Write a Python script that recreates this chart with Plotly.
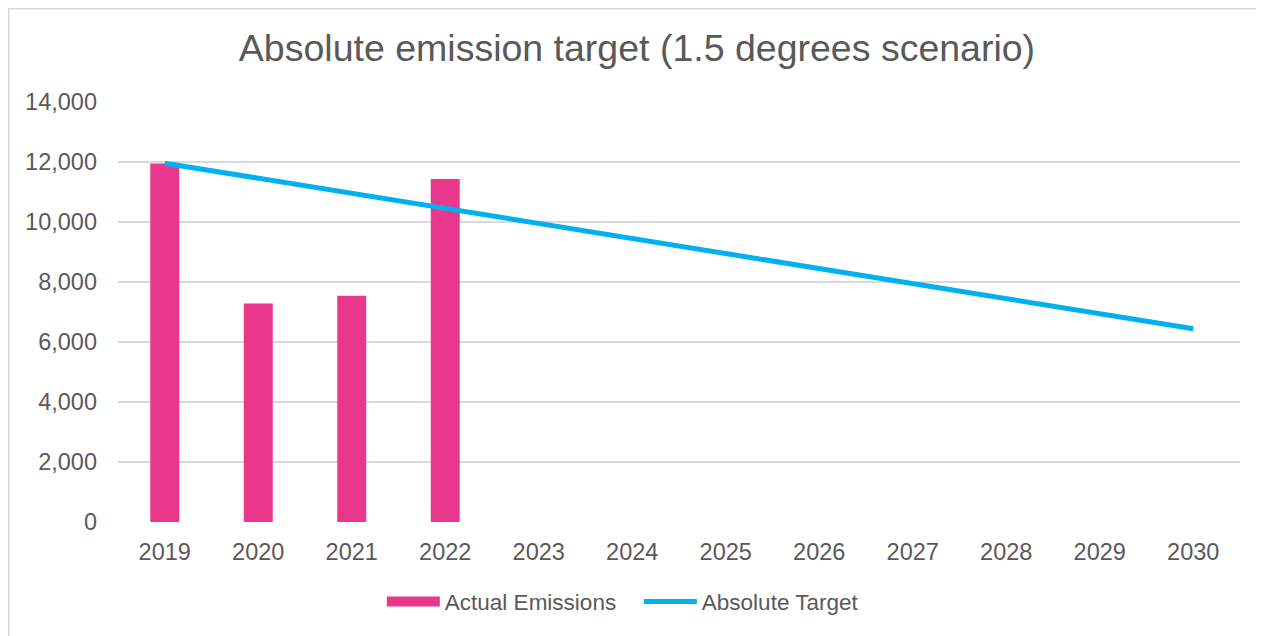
import plotly.graph_objects as go

years = ["2019", "2020", "2021", "2022", "2023", "2024", "2025", "2026", "2027", "2028", "2029", "2030"]
actual_years = ["2019", "2020", "2021", "2022"]
actual_emissions = [11950, 7280, 7540, 11430]
absolute_target = [11960, 11460, 10960, 10460, 9960, 9460, 8950, 8450, 7950, 7450, 6950, 6440]
y_ticks = [0, 2000, 4000, 6000, 8000, 10000, 12000, 14000]

FONT = "Liberation Sans, Arial, sans-serif"
GREY = "#595959"
PINK = "#E9388B"
BLUE = "#00B0F0"

# The page body has an 8px margin, so the figure is drawn 8px smaller and offset.
FW, FH = 1256, 628
L, R, T, B = 110, 1232, 94, 514  # plot area in figure pixels
W, H = R - L, B - T


def px(x):
    return (x - L) / W


def py(y):
    return (B - y) / H


fig = go.Figure()
fig.add_trace(go.Bar(
    x=actual_years, y=actual_emissions, name="Actual Emissions",
    marker=dict(color=PINK, line=dict(width=0)),
    legendgroup="actual", showlegend=False,
))
# legend swatch for the bars (wide rectangle like the original)
fig.add_trace(go.Scatter(
    x=[None], y=[None], name="Actual Emissions", mode="lines",
    line=dict(color=PINK, width=13), legendgroup="actual", hoverinfo="skip",
))
fig.add_trace(go.Scatter(
    x=years, y=absolute_target, name="Absolute Target", mode="lines",
    line=dict(color=BLUE, width=5),
))

fig.update_layout(
    width=FW, height=FH,
    margin=dict(l=L, r=FW - R, t=T, b=FH - B, autoexpand=False),
    paper_bgcolor="white", plot_bgcolor="white",
    font=dict(family=FONT, color=GREY, size=22),
    title=dict(text="Absolute emission target (1.5 degrees scenario)",
               x=0.5008, xanchor="center", y=1 - 40 / FH, yanchor="middle",
               font=dict(size=37.5, color=GREY, family=FONT)),
    bargap=0.69,
    showlegend=True,
    legend=dict(orientation="h", x=0.4642, xanchor="center", y=-0.19, yanchor="middle",
                font=dict(size=22.5, color=GREY, family=FONT), itemwidth=53,
                entrywidth=189, entrywidthmode="pixels",
                traceorder="normal", bgcolor="rgba(0,0,0,0)"),
    shapes=[
        dict(type="line", xref="paper", yref="paper", x0=px(0.75), x1=px(0.75), y0=py(0), y1=py(FH + 4),
             line=dict(color="#d9d9d9", width=1.5)),
        dict(type="line", xref="paper", yref="paper", x0=px(0), x1=px(FW + 4), y0=py(0.75), y1=py(0.75),
             line=dict(color="#d9d9d9", width=1.5)),
    ],
)
fig.update_xaxes(
    type="category", categoryorder="array", categoryarray=years, range=[-0.5, 11.5],
    showgrid=False, showline=False, zeroline=False, ticks="", automargin=False,
    tickfont=dict(size=23.5, color=GREY, family=FONT), ticklabelstandoff=13,
)
fig.update_yaxes(
    range=[0, 14000], tickvals=y_ticks, tickformat=",", showgrid=True, automargin=False,
    gridcolor="#d9d9d9", gridwidth=1.5, zeroline=False, showline=False, ticks="",
    tickfont=dict(size=23.5, color=GREY, family=FONT), ticklabelstandoff=20,
)

fig.write_html("out.html")
